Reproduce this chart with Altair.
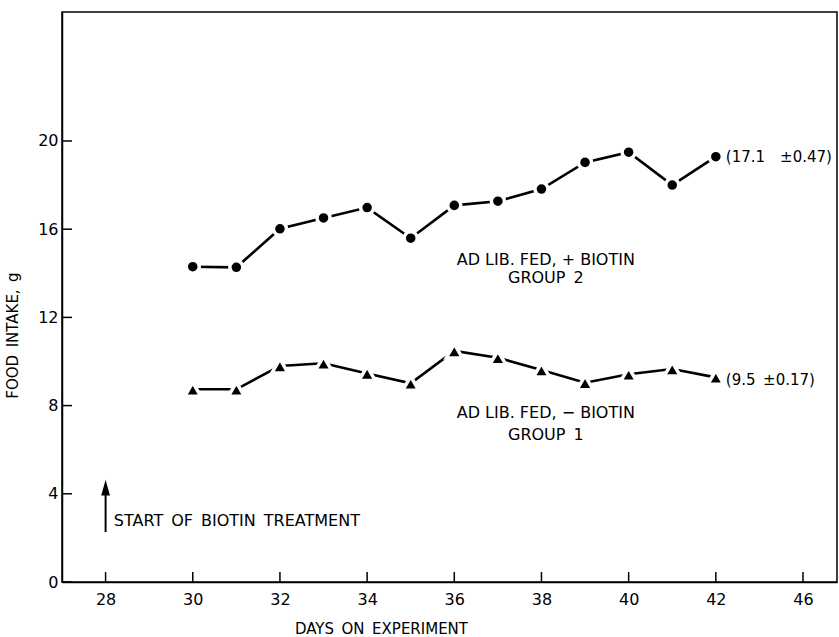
import altair as alt
import pandas as pd

# Daily food intake (g) on days 30-42 of the experiment
days = list(range(30, 43))
group2_intake = [14.30, 14.27, 16.02, 16.51, 16.98, 15.59, 17.08, 17.27, 17.82, 19.03, 19.49, 18.00, 19.29]
group1_intake = [8.74, 8.74, 9.80, 9.92, 9.46, 9.01, 10.48, 10.17, 9.61, 9.04, 9.42, 9.66, 9.28]

x_tick_values = [28, 30, 32, 34, 36, 38, 40, 42, 44]
x_tick_labels = ["28", "30", "32", "34", "36", "38", "40", "42", "46"]
y_tick_values = [0, 4, 8, 12, 16, 20]

FONT = "DejaVu Sans"
X_DOMAIN = [27, 44.78]
Y_DOMAIN = [0, 25.85]
SP = "\u2002"  # en space, keeps the wide word spacing of the lettering

g2 = pd.DataFrame({"day": days, "intake": group2_intake})
g1 = pd.DataFrame({"day": days, "intake": group1_intake})

label_expr = " : ".join(
    f"datum.value == {v} ? '{t}'" for v, t in zip(x_tick_values, x_tick_labels)
) + " : datum.label"

x_scale = alt.Scale(domain=X_DOMAIN, nice=False, zero=False)
y_scale = alt.Scale(domain=Y_DOMAIN, nice=False, zero=False)

x_enc = alt.X(
    "day:Q",
    scale=x_scale,
    axis=alt.Axis(
        values=x_tick_values, labelExpr=label_expr, ticks=False, grid=False,
        labelPadding=9, labelFontSize=16, labelFont=FONT, labelColor="black",
        title=f"DAYS{SP}ON{SP}EXPERIMENT", titleFont=FONT, titleFontSize=15,
        titleFontWeight="normal", titleColor="black",
        titleX=319, titleY=46, titleAnchor="middle", titleBaseline="middle",
        domainColor="black", domainWidth=1.5,
    ),
)
y_enc = alt.Y(
    "intake:Q",
    scale=y_scale,
    axis=alt.Axis(
        values=y_tick_values, ticks=False, grid=False,
        labelPadding=4, labelFontSize=16, labelFont=FONT, labelColor="black",
        title=f"FOOD{SP}INTAKE,{SP}g", titleFont=FONT, titleFontSize=15,
        titleFontWeight="normal", titleColor="black",
        titleX=-50, titleY=323, titleAngle=-90, titleAlign="center",
        titleBaseline="middle",
        domainColor="black", domainWidth=1.5,
    ),
)

base2 = alt.Chart(g2).encode(x=x_enc, y=y_enc)
base1 = alt.Chart(g1).encode(x=x_enc, y=y_enc)

line2 = base2.mark_line(color="black", strokeWidth=2.6)
line1 = base1.mark_line(color="black", strokeWidth=2.6)
pts2 = base2.mark_point(shape="circle", filled=True, fill="black", stroke="white",
                        strokeWidth=3.5, size=170, opacity=1)
pts1 = base1.mark_point(shape="triangle-up", filled=True, fill="black", stroke="white",
                        strokeWidth=3.5, size=260, opacity=1)

# inward tick marks on both axes
xt = alt.Chart(pd.DataFrame({"day": x_tick_values})).mark_rule(
    color="black", strokeWidth=1.5
).encode(x=alt.X("day:Q", scale=x_scale), y=alt.value(570), y2=alt.value(560))
yt = alt.Chart(pd.DataFrame({"intake": y_tick_values})).mark_rule(
    color="black", strokeWidth=1.5
).encode(y=alt.Y("intake:Q", scale=y_scale), x=alt.value(0), x2=alt.value(10))

# text annotations
labels = pd.DataFrame({
    "day": [38.1, 38.1, 38.1, 38.1],
    "intake": [14.6, 13.79, 7.66, 6.67],
    "text": [
        "AD LIB. FED, + BIOTIN",
        f"GROUP{SP}2",
        "AD LIB. FED, \u2212 BIOTIN",
        f"GROUP{SP}1",
    ],
})
group_text = alt.Chart(labels).mark_text(
    font=FONT, fontSize=16, color="black", align="center", baseline="middle"
).encode(x=alt.X("day:Q", scale=x_scale), y=alt.Y("intake:Q", scale=y_scale), text="text:N")

means = pd.DataFrame({
    "day": [42.23, 42.23],
    "intake": [19.27, 9.16],
    "text": [f"(17.1{SP}{SP}\u00b10.47)", f"(9.5{SP}\u00b10.17)"],
})
mean_text = alt.Chart(means).mark_text(
    font=FONT, fontSize=15, color="black", align="left", baseline="middle"
).encode(x=alt.X("day:Q", scale=x_scale), y=alt.Y("intake:Q", scale=y_scale), text="text:N")

# arrow marking the start of biotin treatment
arrow_df = pd.DataFrame({"day": [28], "y0": [2.27], "y1": [4.0]})
arrow_shaft = alt.Chart(arrow_df).mark_rule(color="black", strokeWidth=2).encode(
    x=alt.X("day:Q", scale=x_scale),
    y=alt.Y("y0:Q", scale=y_scale),
    y2="y1:Q",
)
arrow_head = alt.Chart(pd.DataFrame({"day": [28], "y": [4.28]})).mark_point(
    shape="M-0.55,1L0,-1L0.55,1Z", filled=True, fill="black", opacity=1, size=250
).encode(x=alt.X("day:Q", scale=x_scale), y=alt.Y("y:Q", scale=y_scale))
start_text = alt.Chart(
    pd.DataFrame({"day": [28.19], "y": [2.77], "text": [f"START{SP}OF{SP}BIOTIN{SP}TREATMENT"]})
).mark_text(font=FONT, fontSize=16, color="black", align="left", baseline="middle").encode(
    x=alt.X("day:Q", scale=x_scale), y=alt.Y("y:Q", scale=y_scale), text="text:N"
)

chart = alt.layer(
    line2, line1, pts2, pts1, xt, yt, group_text, mean_text,
    arrow_shaft, arrow_head, start_text,
).properties(
    width=775,
    height=570,
    autosize=alt.AutoSizeParams(type="none"),
    padding={"left": 62, "top": 12, "right": 2, "bottom": 55},
    background="white",
).configure_view(
    stroke="black", strokeWidth=1.5
)

chart.save("out.html", embed_options={"renderer": "svg", "actions": False})
